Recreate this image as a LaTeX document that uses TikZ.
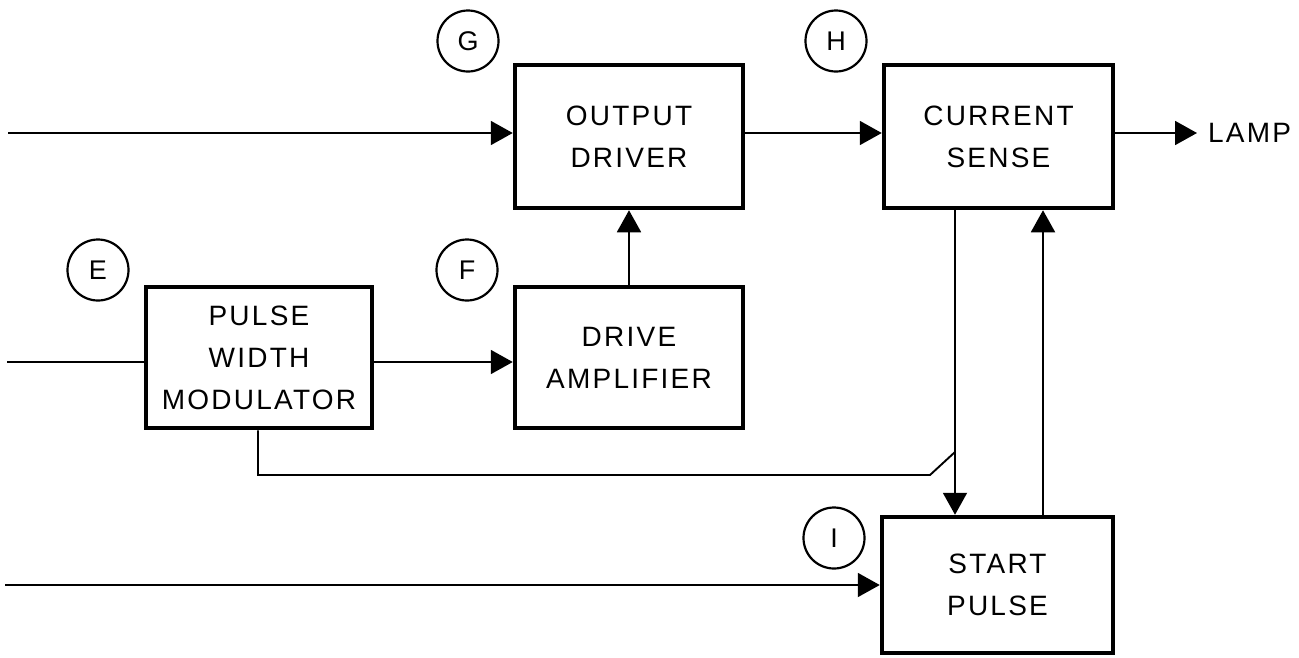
\documentclass[tikz,border=0pt]{standalone}
\usepackage{fontspec}
\setmainfont{Liberation Sans}[LetterSpace=8]
\usetikzlibrary{arrows.meta,calc}
\tikzset{
  blk/.style={draw, line width=4.5pt, rectangle, inner sep=0pt, align=center,
    font=\fontsize{28}{42}\selectfont},
  tag/.style={draw, circle, line width=2.2pt, minimum size=61pt, inner sep=0pt,
    font=\fontsize{27}{30}\selectfont},
  conn/.style={line width=1.9pt},
  arr/.style={conn, -{Triangle[length=22pt,width=24pt]}},
  lbl/.style={inner xsep=11pt, inner ysep=2pt, anchor=west, font=\fontsize{28}{30}\selectfont}
}
\begin{document}
\begin{tikzpicture}[x=1pt,y=-1pt]
\useasboundingbox[fill=white] (0,0) rectangle (1299,657);
% blocks
\node[blk, minimum width=228pt, minimum height=143pt] (od) at (629,136.5) {OUTPUT\\DRIVER};
\node[blk, minimum width=229pt, minimum height=143pt] (cs) at (998.5,136.5) {CURRENT\\SENSE};
\node[blk, minimum width=226pt, minimum height=141pt] (pwm) at (259,357.5) {PULSE\\WIDTH\\MODULATOR};
\node[blk, minimum width=228pt, minimum height=141pt] (da) at (629,357.5) {DRIVE\\AMPLIFIER};
\node[blk, minimum width=231pt, minimum height=136pt] (sp) at (997.5,585) {START\\PULSE};
% tags
\node[tag] (tg) at (468,41) {G};
\node[tag] (th) at (836,41) {H};
\node[tag] (te) at (98,270) {E};
\node[tag] (tf) at (467,270) {F};
\node[tag] (ti) at (834,538) {I};
% output label
\node[lbl] (lamp) at (1197,133) {LAMP};
% free ends and helper coordinates
\coordinate (in1) at (8,133);
\coordinate (in2) at (7,362);
\coordinate (in3) at (5,585);
\coordinate (xa) at (955,0);
\coordinate (xb) at (1043,0);
\coordinate (fb) at (258,475);
\coordinate (jog) at (930,475);
\coordinate (join) at (955,452);
% connectors
\draw[arr] (in1) -- (in1 -| od.west);
\draw[arr] (od.east |- in1) -- (cs.west |- in1);
\draw[arr] (cs.east |- in1) -- (lamp.west);
\draw[conn] (in2) -- (in2 -| pwm.west);
\draw[arr] (pwm.east |- in2) -- (da.west |- in2);
\draw[arr] (da.north) -- (od.south);
\draw[arr] (cs.south -| xa) -- (sp.north -| xa);
\draw[arr] (sp.north -| xb) -- (cs.south -| xb);
\draw[conn] (pwm.south -| fb) -- (fb) -- (jog) -- (join);
\draw[arr] (in3) -- (in3 -| sp.west);
\end{tikzpicture}
\end{document}
